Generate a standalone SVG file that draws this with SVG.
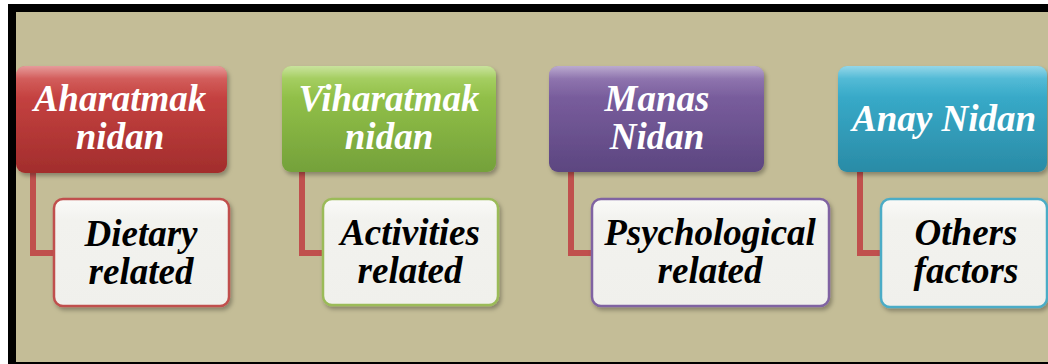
<svg xmlns="http://www.w3.org/2000/svg" width="1048" height="364" viewBox="0 0 1048 364">
<defs>
<linearGradient id="gRed" x1="0" y1="0" x2="0" y2="1"><stop offset="0" stop-color="#D24A48"/><stop offset="1" stop-color="#A22D2C"/></linearGradient>
<linearGradient id="gGreen" x1="0" y1="0" x2="0" y2="1"><stop offset="0" stop-color="#9DCC4E"/><stop offset="1" stop-color="#74A13A"/></linearGradient>
<linearGradient id="gPurple" x1="0" y1="0" x2="0" y2="1"><stop offset="0" stop-color="#8466A8"/><stop offset="1" stop-color="#5C4680"/></linearGradient>
<linearGradient id="gCyan" x1="0" y1="0" x2="0" y2="1"><stop offset="0" stop-color="#3DB6D6"/><stop offset="1" stop-color="#2A8BA6"/></linearGradient>
<linearGradient id="gShine" x1="0" y1="0" x2="0" y2="1"><stop offset="0" stop-color="#FFFFFF" stop-opacity="0.45"/><stop offset="0.12" stop-color="#FFFFFF" stop-opacity="0.12"/><stop offset="0.3" stop-color="#FFFFFF" stop-opacity="0"/></linearGradient>
<linearGradient id="gChild" x1="0" y1="0" x2="0" y2="1"><stop offset="0" stop-color="#FAFAF8"/><stop offset="0.2" stop-color="#F2F2EE"/><stop offset="1" stop-color="#F0F0EC"/></linearGradient>
<filter id="sh" x="-10%" y="-10%" width="120%" height="130%"><feDropShadow dx="2" dy="3" stdDeviation="2" flood-color="#000" flood-opacity="0.3"/></filter>
</defs>
<style>
.top{filter:url(#sh)}
.child{fill:url(#gChild);stroke-width:2.5;filter:url(#sh)}
.shine{fill:url(#gShine)}
.tw{font-family:"Liberation Serif","Times New Roman",serif;font-weight:bold;font-style:italic;font-size:37px;fill:#FFFFFF;text-anchor:middle}
.tb{font-family:"Liberation Serif","Times New Roman",serif;font-weight:bold;font-style:italic;font-size:37px;fill:#000000;text-anchor:middle}
.conn{fill:none;stroke:#C0504D;stroke-width:6}
</style>
<rect x="0" y="0" width="1048" height="364" fill="#FFFFFF"/>
<rect x="12" y="8" width="1060" height="358" fill="#C4BD97" stroke="#000000" stroke-width="8"/>
<g id="connectors">
<path class="conn" d="M33 173 V253 H54"/>
<path class="conn" d="M302 172 V253 H323"/>
<path class="conn" d="M571 172 V253 H592"/>
<path class="conn" d="M860 172 V253 H881"/>
</g>
<g id="node-aharatmak">
<rect class="top" x="16" y="66" width="211" height="107" rx="9" fill="url(#gRed)"/>
<rect class="shine" x="16" y="66" width="211" height="107" rx="9"/>
<text class="tw" x="120" y="111">Aharatmak</text>
<text class="tw" x="120" y="149">nidan</text>
</g>
<g id="node-dietary">
<rect class="child" x="54" y="199" width="175" height="107" rx="9" stroke="#C0504D"/>
<text class="tb" x="141" y="246">Dietary</text>
<text class="tb" x="141" y="284">related</text>
</g>
<g id="node-viharatmak">
<rect class="top" x="282" y="66" width="214" height="106" rx="9" fill="url(#gGreen)"/>
<rect class="shine" x="282" y="66" width="214" height="106" rx="9"/>
<text class="tw" x="389" y="111">Viharatmak</text>
<text class="tw" x="389" y="149">nidan</text>
</g>
<g id="node-activities">
<rect class="child" x="323" y="199" width="175" height="106" rx="9" stroke="#9BBB59"/>
<text class="tb" x="410" y="245">Activities</text>
<text class="tb" x="410" y="283">related</text>
</g>
<g id="node-manas">
<rect class="top" x="549" y="66" width="215" height="106" rx="9" fill="url(#gPurple)"/>
<rect class="shine" x="549" y="66" width="215" height="106" rx="9"/>
<text class="tw" x="657" y="111">Manas</text>
<text class="tw" x="657" y="149">Nidan</text>
</g>
<g id="node-psychological">
<rect class="child" x="592" y="199" width="237" height="107" rx="9" stroke="#8064A2"/>
<text class="tb" x="710" y="245">Psychological</text>
<text class="tb" x="710" y="283">related</text>
</g>
<g id="node-anay">
<rect class="top" x="838" y="66" width="209" height="106" rx="9" fill="url(#gCyan)"/>
<rect class="shine" x="838" y="66" width="209" height="106" rx="9"/>
<text class="tw" x="944" y="131">Anay Nidan</text>
</g>
<g id="node-others">
<rect class="child" x="881" y="199" width="166" height="108" rx="9" stroke="#4BACC6"/>
<text class="tb" x="966" y="245">Others</text>
<text class="tb" x="966" y="283">factors</text>
</g>
</svg>
